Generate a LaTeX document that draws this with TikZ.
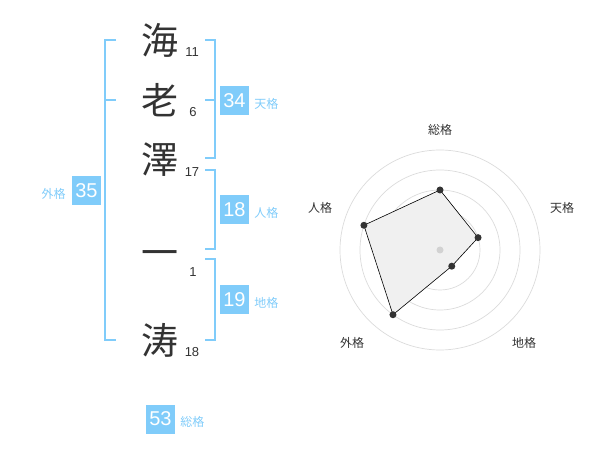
\documentclass[tikz,border=0pt]{standalone}
\usepackage{fontspec}
\setmainfont{Liberation Sans}
\newfontfamily\jp{Noto Sans CJK JP}
\usetikzlibrary{arrows.meta, positioning}
\definecolor{kakublue}{RGB}{128,204,250}
\definecolor{inkgray}{RGB}{51,51,51}

\begin{document}
\begin{tikzpicture}[x=1pt, y=-1pt,
  kanji/.style={font=\jp\fontsize{37}{37}\selectfont, text=inkgray, inner sep=0pt},
  strokes/.style={font=\fontsize{13}{13}\selectfont, text=inkgray, inner sep=0pt},
  kakubox/.style={fill=kakublue, text=white, minimum size=29pt, inner sep=0pt, font=\fontsize{20}{20}\selectfont},
  kakulabel/.style={text=kakublue, font=\jp\fontsize{12}{12}\selectfont, inner sep=0pt},
  bracket/.style={draw=kakublue, line width=2pt},
  radarlabel/.style={text=inkgray, font=\jp\fontsize{12}{12}\selectfont, inner sep=0pt}]
\useasboundingbox (0,0) rectangle (600,470);
\node (k1) at (160,40) [kanji] {海};
\node (k2) at (160,100) [kanji] {老};
\node (k3) at (160,160) [kanji] {澤};
\node (k4) at (160,259) [kanji] {一};
\node (k5) at (160,340) [kanji] {涛};
\node (n1) at (192,52.5) [strokes] {11};
\node (n2) at (193,112.5) [strokes] {6};
\node (n3) at (192,172.5) [strokes] {17};
\node (n4) at (193,272.5) [strokes] {1};
\node (n5) at (192,352.5) [strokes] {18};
\draw [bracket] (116,40) -- (105,40) -- (105,340) -- (116,340);
\draw [bracket] (105,100) -- (116,100);
\draw [bracket] (205,40) -- (215,40) -- (215,158) -- (205,158);
\draw [bracket] (205,100) -- (215,100);
\draw [bracket] (205,170) -- (215,170) -- (215,249) -- (205,249);
\draw [bracket] (205,259) -- (215,259) -- (215,340) -- (205,340);
\node (ten) at (234.5,100.5) [kakubox] {34};
\node (tenL) [kakulabel, right=5pt of ten, yshift=-3pt] {天格};
\node (jin) at (234.5,210) [kakubox] {18};
\node (jinL) [kakulabel, right=5pt of jin, yshift=-3pt] {人格};
\node (chi) at (234.5,300) [kakubox] {19};
\node (chiL) [kakulabel, right=5pt of chi, yshift=-3pt] {地格};
\node (gai) at (86.5,190.5) [kakubox] {35};
\node (gaiL) [kakulabel, left=6pt of gai, yshift=-3pt] {外格};
\node (so) at (160.5,419) [kakubox] {53};
\node (soL) [kakulabel, right=5pt of so, yshift=-3pt] {総格};
\coordinate (c) at (440,250);
\foreach \r in {20,40,...,100}
\draw [gray!28, line width=0.7pt] (c) circle [radius=\r pt];
\foreach \name/\ang/\r in {so/90/60, ten/18/40, chi/-54/20, gai/-126/80, jin/162/80}
\path (c) ++(\ang:\r pt) coordinate (p-\name);
\draw [fill=gray!12, line width=0.6pt] (p-so) -- (p-ten) -- (p-chi) -- (p-gai) -- (p-jin) -- cycle;
\foreach \name in {so,ten,chi,gai,jin}
\fill [inkgray] (p-\name) circle [radius=3.5pt];
\fill [gray!35] (c) circle [radius=3.5pt];
\node (r-so) at (440,130) [radarlabel] {総格};
\node (r-ten) at (562,208) [radarlabel] {天格};
\node (r-chi) at (524,343) [radarlabel] {地格};
\node (r-gai) at (352,343) [radarlabel] {外格};
\node (r-jin) at (320,208) [radarlabel] {人格};
\end{tikzpicture}
\end{document}
